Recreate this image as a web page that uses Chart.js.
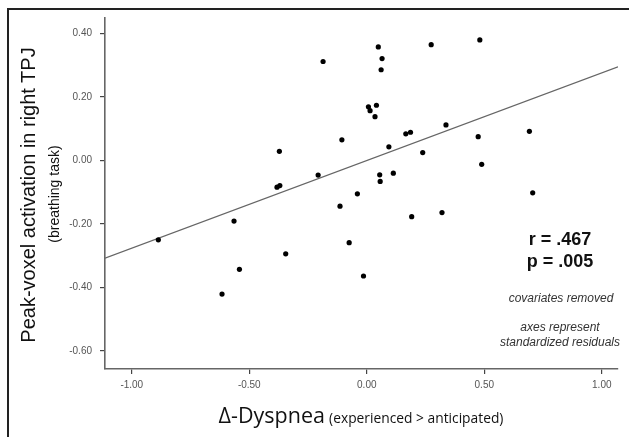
<!DOCTYPE html>
<html>
<head>
<meta charset="utf-8">
<title>Peak-voxel activation vs Dyspnea</title>
<script src="https://cdn.jsdelivr.net/npm/chart.js@4.4.0/dist/chart.umd.min.js"></script>
<style>
  html, body { margin: 0; padding: 0; background: #fff; overflow: hidden; }
  #wrap { position: relative; width: 629px; height: 437px; overflow: hidden; }
  #frame { position: absolute; left: 7px; top: 8px; width: 700px; height: 500px; border: 2px solid #222; }
  #chart { position: absolute; left: 0; top: 0; }
  .txt { position: absolute; white-space: nowrap; }
  #ytitle { left: 28px; top: 195px; transform: translate(-50%, -50%) rotate(-90deg);
            font: 20px "Liberation Sans", Arial, sans-serif; line-height: 20px; color: #111; }
  #ysub { left: 54px; top: 194px; transform: translate(-50%, -50%) rotate(-90deg);
          font: 14px "Liberation Sans", Arial, sans-serif; line-height: 14px; color: #111; }
  #xtitle { left: 361px; top: 403px; transform: translateX(-50%); color: #111; font-family: "Open Sans", sans-serif; line-height: 24px; }
  #xtitle .big { font-size: 21.5px; }
  #xtitle .small { font-size: 13.8px; }
  #stats { left: 560px; top: 228px; transform: translateX(-50%); text-align: center;
           font: bold 18px "Liberation Sans", Arial, sans-serif; line-height: 22px; color: #111; }
  .note { transform: translateX(-50%); text-align: center;
          font: italic 12px "Liberation Sans", Arial, sans-serif; line-height: 15px; color: #333; }
</style>
</head>
<body>
<div id="wrap">
  <canvas id="chart" width="629" height="437"></canvas>
  <div id="frame"></div>
  <div class="txt" id="ytitle">Peak-voxel activation in right TPJ</div>
  <div class="txt" id="ysub">(breathing task)</div>
  <div class="txt" id="xtitle"><span class="big">Δ-Dyspnea</span> <span class="small">(experienced &gt; anticipated)</span></div>
  <div class="txt" id="stats">r = .467<br>p = .005</div>
  <div class="txt note" style="left:561px; top:291px;">covariates removed</div>
  <div class="txt note" style="left:560px; top:320px;">axes represent<br>standardized residuals</div>
</div>
<script>
// residuals
const dyspnea = [-0.887, -0.616, -0.565, -0.542, -0.382, -0.370, -0.372, -0.345, -0.207, -0.186,
                 -0.114, -0.106, -0.075, -0.040, -0.014, 0.007, 0.014, 0.035, 0.041, 0.049,
                 0.055, 0.057, 0.061, 0.065, 0.094, 0.113, 0.166, 0.186, 0.191, 0.238,
                 0.274, 0.320, 0.337, 0.474, 0.481, 0.489, 0.692, 0.706];
const tpj = [-0.250, -0.421, -0.191, -0.343, -0.084, -0.079, 0.029, -0.294, -0.046, 0.312,
             -0.144, 0.065, -0.259, -0.105, -0.364, 0.169, 0.157, 0.138, 0.174, 0.358,
             -0.045, -0.066, 0.286, 0.321, 0.043, -0.040, 0.084, 0.089, -0.177, 0.025,
             0.365, -0.164, 0.112, 0.075, 0.380, -0.012, 0.092, -0.102];

// fit line ends at the axis limits
const fitX = [-1.114, 1.069];
const fitY = [-0.308, 0.295];

const xTicks = [-1.0, -0.5, 0.0, 0.5, 1.0];
const yTicks = [-0.6, -0.4, -0.2, 0.0, 0.2, 0.4];
const xRange = [-1.114, 1.069];
const yRange = [-0.657, 0.449];

const points = dyspnea.map(function (x, i) { return { x: x, y: tpj[i] }; });
const fitLine = fitX.map(function (x, i) { return { x: x, y: fitY[i] }; });

const tickFont = { family: '"Liberation Sans", Arial, sans-serif', size: 10 };

new Chart(document.getElementById("chart").getContext("2d"), {
  type: "scatter",
  data: {
    datasets: [{
      label: "subjects",
      data: points,
      pointRadius: 2.6,
      pointBackgroundColor: "#000",
      pointBorderWidth: 0
    }, {
      type: "line",
      label: "fit",
      data: fitLine,
      borderColor: "#666",
      borderWidth: 1.3,
      pointRadius: 0,
      fill: false
    }]
  },
  options: {
    responsive: false,
    animation: false,
    devicePixelRatio: 1,
    layout: { padding: { left: 0, right: 11, top: 18, bottom: 0 } },
    plugins: { legend: { display: false }, tooltip: { enabled: false } },
    scales: {
      x: {
        type: "linear",
        min: xRange[0],
        max: xRange[1],
        afterBuildTicks: function (s) { s.ticks = xTicks.map(function (v) { return { value: v }; }); },
        afterFit: function (s) { s.height = 68; },
        ticks: {
          callback: function (v) { return Number(v).toFixed(2); },
          font: tickFont, color: "#555", padding: 5, maxRotation: 0, autoSkip: false
        },
        grid: { drawOnChartArea: false, drawTicks: true, tickLength: 5, color: "#444", lineWidth: 1.2 },
        border: { color: "#666", width: 1.6 }
      },
      y: {
        type: "linear",
        min: yRange[0],
        max: yRange[1],
        afterBuildTicks: function (s) { s.ticks = yTicks.map(function (v) { return { value: v }; }); },
        afterFit: function (s) { s.width = 105; },
        ticks: {
          callback: function (v) { return Number(v).toFixed(2); },
          font: tickFont, color: "#555", padding: 8, autoSkip: false
        },
        grid: { drawOnChartArea: false, drawTicks: true, tickLength: 5, color: "#444", lineWidth: 1.2 },
        border: { color: "#666", width: 1.6 }
      }
    }
  }
});
</script>
</body>
</html>
